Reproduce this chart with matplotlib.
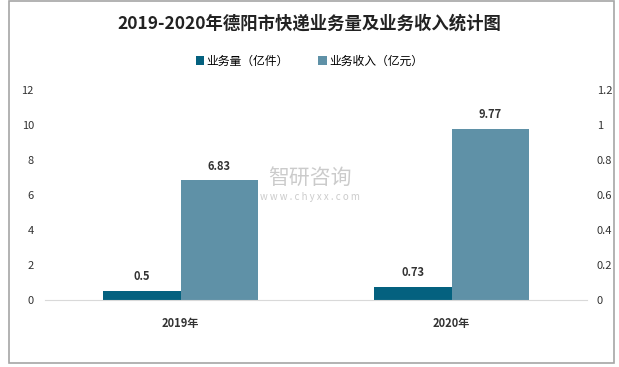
import matplotlib
matplotlib.use("Agg")
import matplotlib.pyplot as plt
import numpy as np
from matplotlib.patches import Rectangle

plt.rcParams['font.family'] = ['Noto Sans CJK SC', 'DejaVu Sans']

categories = ["2019年", "2020年"]
volume = [0.5, 0.73]          # 业务量（亿件）
revenue = [6.83, 9.77]        # 业务收入（亿元）
series_names = ["业务量（亿件）", "业务收入（亿元）"]
left_ticks = [0, 2, 4, 6, 8, 10, 12]
right_ticks = [0, 0.2, 0.4, 0.6, 0.8, 1.0, 1.2]
right_labels = ["0", "0.2", "0.4", "0.6", "0.8", "1", "1.2"]

c_dark = "#04617F"
c_light = "#5F91A7"
txt = "#333333"

fig = plt.figure(figsize=(6.19, 3.67), dpi=100)
fig.patches.append(Rectangle((9/619, 4/367), 605/619, 362/367, transform=fig.transFigure,
                             fill=False, edgecolor="#A6A6A6", linewidth=1.2))

ax = fig.add_axes([45/619, 1-300/367, 542/619, 210/367])
x = np.arange(len(categories))
w = 0.285
b1 = ax.bar(x - w/2, volume, w, color=c_dark, label=series_names[0])
b2 = ax.bar(x + w/2, revenue, w, color=c_light, label=series_names[1])
ax.set_xlim(-0.5, 1.5)
ax.set_ylim(0, 12)
ax.set_yticks(left_ticks)
ax.set_yticklabels([str(t) for t in left_ticks])
ax.set_xticks(x)
ax.set_xticklabels(categories, fontweight="bold")
for s in ["top", "right", "left"]:
    ax.spines[s].set_visible(False)
ax.spines["bottom"].set_color("#D9D9D9")
ax.tick_params(axis="both", length=0, labelsize=8, colors=txt)
ax.tick_params(axis="y", pad=8)
ax.tick_params(axis="x", pad=12)

for bars, vals in ((b1, volume), (b2, revenue)):
    for r, v in zip(bars, vals):
        ax.text(r.get_x() + r.get_width()/2, r.get_height() + 0.45, f"{v:g}",
                ha="center", va="bottom", fontsize=8, fontweight="bold", color=txt)

ax2 = ax.twinx()
ax2.set_ylim(0, 1.2)
ax2.set_yticks(right_ticks)
ax2.set_yticklabels(right_labels)
for s in ["top", "right", "left", "bottom"]:
    ax2.spines[s].set_visible(False)
ax2.tick_params(axis="y", length=0, labelsize=8, colors=txt, pad=7)

fig.text(0.5, 1-24/367, "2019-2020年德阳市快递业务量及业务收入统计图", ha="center", va="center",
         fontsize=12.5, fontweight="bold", color="#222222")

fig.legend(handles=[b1, b2], labels=series_names, loc="center", bbox_to_anchor=(0.5, 1-61/367),
           ncol=2, frameon=False, fontsize=8.5, handlelength=0.7, handleheight=0.7,
           handletextpad=0.2, columnspacing=2.5)

# watermark
fig.text(0.50, 1-178/367, "智研咨询", ha="center", va="center", fontsize=15,
         color="#BFBFBF", alpha=0.8)
fig.text(0.50, 1-197/367, "w w w . c h y x x . c o m", ha="center", va="center", fontsize=7,
         color="#BFBFBF", alpha=0.8)

fig.savefig("out.png", dpi=100)
